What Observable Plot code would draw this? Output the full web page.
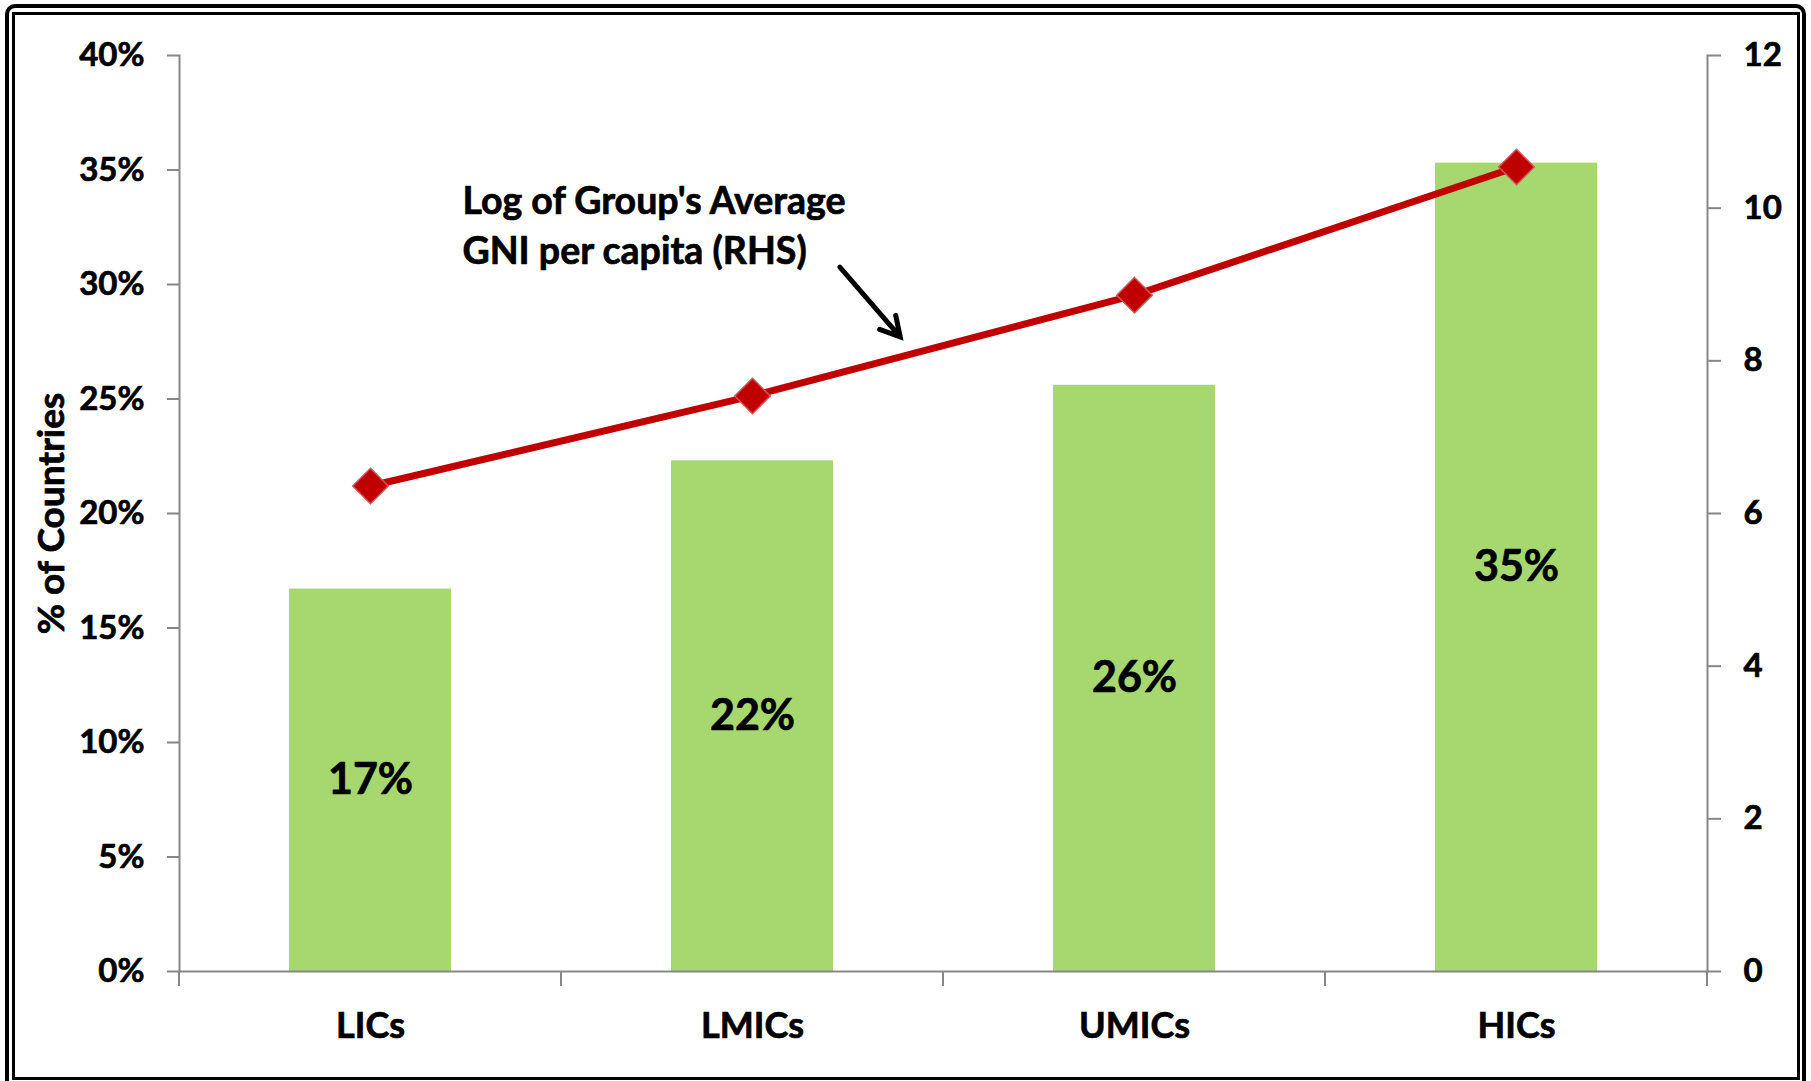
<!DOCTYPE html>
<html>
<head>
<meta charset="utf-8">
<script src="https://cdn.jsdelivr.net/npm/d3@7"></script>
<script src="https://cdn.jsdelivr.net/npm/@observablehq/plot@0.6"></script>
<style>
  html, body { margin: 0; padding: 0; background: #fff; }
  #wrap { position: relative; width: 1811px; height: 1081px; overflow: hidden; background: #fff; }
  #chart { position: absolute; left: 0; top: 0; }
  .bOuter { position: absolute; left: 5px; top: 4px; width: 1801px; height: 1100px; border: 4px solid #000; border-radius: 10px; box-sizing: border-box; pointer-events: none; }
  .bInner { position: absolute; left: 12px; top: 12px; width: 1788px; height: 1068px; border: 3.5px solid #000; box-sizing: border-box; pointer-events: none; }
  #chart svg text { paint-order: stroke; }
</style>
</head>
<body>
<div id="wrap">
  <div id="chart"></div>
  <div class="bOuter"></div>
  <div class="bInner"></div>
</div>
<script>
// ---- data ----
const categories = ["LICs", "LMICs", "UMICs", "HICs"];
const shareOfCountries = [0.167, 0.223, 0.256, 0.353];
const barLabels = ["17%", "22%", "26%", "35%"];
const logGniPerCapita = [6.36, 7.54, 8.86, 10.54];
const leftTicks = [0, 0.05, 0.10, 0.15, 0.20, 0.25, 0.30, 0.35, 0.40];
const rightTicks = [0, 2, 4, 6, 8, 10, 12];
const leftMax = 0.40;
const rightMax = 12;
const yAxisTitle = "% of Countries";
const annotationText = "Log of Group's Average\nGNI per capita (RHS)";

// ---- build ----
const ratio = leftMax / rightMax;
const rows = categories.map((c, i) => ({
  cat: c, share: shareOfCountries[i], label: barLabels[i], gni: logGniPerCapita[i]
}));

const font = "Lato, 'Open Sans', sans-serif";
const axisGrey = "#878787";
const heavy = { stroke: "#000", strokeWidth: 0.7 };

const chart = Plot.plot({
  width: 1811,
  height: 1081,
  marginLeft: 179,
  marginRight: 104,
  marginTop: 55,
  marginBottom: 110,
  style: { fontFamily: font, fontWeight: "bold", color: "#000", background: "transparent" },
  x: { type: "band", domain: categories, paddingInner: 0.576, paddingOuter: 0.288 },
  y: { domain: [0, leftMax] },
  marks: [
    Plot.barY(rows, { x: "cat", y: "share", fill: "#a6d86f" }),
    Plot.text(rows, { x: "cat", y: d => d.share / 2, text: "label", fontSize: 43, fontWeight: "bold", fill: "#000", ...heavy }),
    Plot.line(rows, { x: "cat", y: d => d.gni * ratio, stroke: "#c00000", strokeWidth: 7 }),
    Plot.dot(rows, { x: "cat", y: d => d.gni * ratio, symbol: "diamond2", r: 16, fill: "#c00000", stroke: "#d05858", strokeWidth: 1.5 }),
    Plot.text([annotationText], {
      x: () => "LICs", y: () => 0.3268, dx: 92, text: d => d,
      textAnchor: "start", lineAnchor: "middle", lineHeight: 1.33,
      fontSize: 37.5, fontWeight: "bold", fill: "#000", ...heavy
    }),
    Plot.text([yAxisTitle], {
      frameAnchor: "left", dx: -127, rotate: -90, text: d => d, textAnchor: "middle",
      fontSize: 37, fontWeight: "bold", fill: "#000", ...heavy
    }),
    Plot.axisY(leftTicks, {
      anchor: "left", tickFormat: d => Math.round(d * 100) + "%",
      tickSize: 12, tickPadding: 23, stroke: axisGrey, strokeWidth: 2,
      fontSize: 33, fontWeight: "bold", fill: "#000", label: null
    }),
    Plot.axisY(rightTicks.map(v => v * ratio), {
      anchor: "right", tickFormat: (d) => String(Math.round(d / ratio)),
      tickSize: 13, tickPadding: 23, stroke: axisGrey, strokeWidth: 2,
      fontSize: 33, fontWeight: "bold", fill: "#000", label: null
    }),
    Plot.axisX({
      anchor: "bottom", tickSize: 0, tickPadding: 41,
      fontSize: 36, fontWeight: "bold", fill: "#000", label: null
    }),
    Plot.frame({ anchor: "left", stroke: axisGrey, strokeWidth: 2 }),
    Plot.frame({ anchor: "right", stroke: axisGrey, strokeWidth: 2 }),
    Plot.frame({ anchor: "bottom", stroke: axisGrey, strokeWidth: 2 })
  ]
});

document.getElementById("chart").appendChild(chart);

// make axis tick labels slightly heavier, like the reference's bold face
d3.select(chart).selectAll("g[aria-label$='tick label'] text, g[aria-label$='tick label']")
  .attr("stroke", "#000").attr("stroke-width", 0.7);

// ---- extra decorations positioned from the plot's own scales ----
const xs = chart.scale("x");
const ys = chart.scale("y");
const svg = d3.select(chart);
const gap = (xs.step - xs.bandwidth) / 2;
const y0 = ys.apply(0);
const bounds = categories.map(c => xs.apply(c) - gap).concat([xs.apply(categories[categories.length - 1]) + xs.bandwidth + gap]);
svg.append("g").selectAll("line").data(bounds).join("line")
  .attr("x1", d => d).attr("x2", d => d)
  .attr("y1", y0).attr("y2", y0 + 15)
  .attr("stroke", axisGrey).attr("stroke-width", 2);

// annotation arrow (between LMICs and UMICs centres)
const cx = c => xs.apply(c) + xs.bandwidth / 2;
const lerpX = t => cx("LMICs") + t * (cx("UMICs") - cx("LMICs"));
const tail = [lerpX(0.23), ys.apply(0.3074)];
const tip = [lerpX(0.388), ys.apply(0.2769)];
const ang = Math.atan2(tip[1] - tail[1], tip[0] - tail[0]);
const hl = 22, ha = Math.PI / 6.2;
const w1 = [tip[0] - hl * Math.cos(ang - ha), tip[1] - hl * Math.sin(ang - ha)];
const w2 = [tip[0] - hl * Math.cos(ang + ha), tip[1] - hl * Math.sin(ang + ha)];
svg.append("path")
  .attr("d", `M${tail[0]},${tail[1]}L${tip[0]},${tip[1]}M${w1[0]},${w1[1]}L${tip[0]},${tip[1]}L${w2[0]},${w2[1]}`)
  .attr("fill", "none").attr("stroke", "#000").attr("stroke-width", 5)
  .attr("stroke-linecap", "round").attr("stroke-linejoin", "miter");
</script>
</body>
</html>
